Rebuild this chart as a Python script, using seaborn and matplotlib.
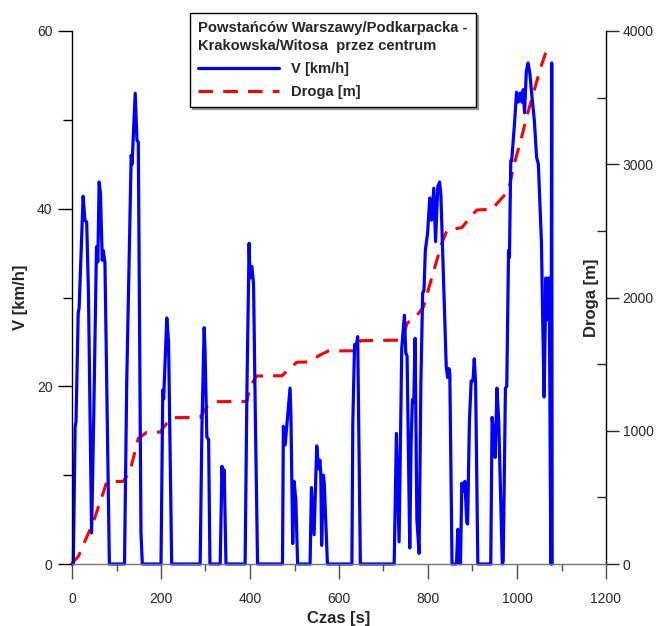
import numpy as np
import pandas as pd
import matplotlib
matplotlib.use("Agg")
import matplotlib.pyplot as plt
from matplotlib.ticker import MultipleLocator
import seaborn as sns

# predkosc [km/h] w funkcji czasu [s]
czas_v = [0, 3, 7, 9, 14, 16, 25, 29, 33, 37, 44, 49, 55, 58, 61, 64, 68, 70, 74, 84,
          118, 123, 128, 133, 135, 142, 146, 149, 155, 158,
          200, 204, 206, 213, 217, 224,
          288, 292, 297, 299, 303, 307, 310,
          333, 337, 339, 342, 346,
          389, 393, 398, 400, 404, 408, 412, 417,
          473, 475, 479, 490, 492, 496, 499, 503, 507,
          535, 538, 544, 550, 554, 557, 559, 561, 565, 567, 574,
          629, 631, 635, 638, 642, 648,
          724, 729, 735, 741, 747, 750, 753, 759, 762, 765, 768, 771, 775, 780,
          784, 788, 791, 794, 799, 804, 808, 813, 817, 822, 826, 829, 841, 844,
          847, 849, 854,
          864, 867, 869, 871, 873, 876, 879, 883, 887, 889, 893, 897, 901, 904,
          907, 912,
          941, 944, 947, 951, 955, 959, 967, 969, 974, 977, 981, 983, 986, 988,
          994, 999, 1003, 1007, 1011, 1014, 1017, 1021, 1025, 1029, 1034, 1039,
          1044, 1048, 1055, 1058, 1061, 1065, 1067, 1071, 1073, 1076, 1078, 1079]
predkosc = [0, 0, 15.5, 16, 28.3, 28.8, 41.4, 38.7, 38.5, 30.5, 3.5, 17, 35.7, 34, 43, 41.7, 34.2, 35.3, 34, 0,
            0, 20.5, 33.3, 46, 45, 53, 47.7, 47.5, 3.5, 0,
            0, 19.6, 18.6, 27.7, 25, 0,
            0, 15.5, 26.6, 24, 14.3, 14, 0,
            0, 11, 8.9, 10.6, 0,
            0, 19.2, 36.1, 32.2, 33.5, 31.5, 16.6, 0,
            0, 15.5, 13.4, 19.8, 16.6, 2.3, 9.3, 7.2, 0,
            0, 8.6, 3.3, 13.3, 10.7, 11.7, 10.3, 2.1, 10, 9, 0,
            0, 15.8, 24.7, 24.3, 25.6, 0,
            0, 14.7, 2.5, 24.3, 28, 23.8, 23.4, 1.8, 13.6, 18.5, 18.2, 25.4, 5, 1.2,
            20.3, 30.5, 30.8, 35.3, 37.2, 41.2, 38.7, 42.3, 36.3, 42.5, 43, 41.5, 22.2, 21,
            22, 21.5, 0,
            0, 3.9, 0.2, 3, 0, 9.1, 8.2, 9.3, 4.7, 4.5, 15.9, 20.6, 20.6, 23.1,
            20.3, 0,
            0, 16.5, 15, 12, 19.8, 16, 0, 0.3, 19.8, 20, 35.3, 34.5, 45.4, 45.4,
            49.3, 53.1, 52, 53, 52, 53.4, 50.8, 55.5, 56.4, 55.2, 52.4, 49.9,
            45.8, 45, 36.1, 26.8, 18.8, 32.2, 27.5, 32.2, 27, 0, 56.4, 0]

# droga [m] w funkcji czasu [s]
czas_d = [0, 3, 14, 48, 70, 78, 115, 130, 149, 168, 198, 213, 224, 288, 303, 318,
          393, 400, 415, 472, 487, 505, 531, 558, 576, 633, 648, 741, 753, 779,
          790, 805, 809, 831, 843, 876, 899, 910, 944, 958, 981, 992, 1010, 1022,
          1038, 1054, 1070]
droga = [0, 17, 55, 317, 533, 618, 620, 693, 943, 988, 990, 1056, 1098, 1100, 1181, 1218,
         1220, 1331, 1411, 1413, 1461, 1514, 1516, 1569, 1599, 1600, 1676, 1680, 1806, 1881,
         1931, 2107, 2156, 2407, 2507, 2524, 2619, 2657, 2662, 2717, 2800, 2980, 3198, 3359,
         3547, 3734, 3890]

tytul = "Powstańców Warszawy/Podkarpacka -\nKrakowska/Witosa  przez centrum"

sns.set_style("ticks")
plt.rcParams['font.family'] = ['Liberation Sans', 'DejaVu Sans']

df_v = pd.DataFrame({"czas": czas_v, "v": predkosc})
df_d = pd.DataFrame({"czas": czas_d, "droga": droga})

fig = plt.figure(figsize=(6.72, 6.26), dpi=100)
ax = fig.add_axes([72 / 672, 62 / 626, 534 / 672, 533 / 626])
ax2 = ax.twinx()

sns.lineplot(data=df_v, x="czas", y="v", ax=ax, color="#0000ff", lw=2.3,
             estimator=None, sort=False, legend=False)
sns.lineplot(data=df_d, x="czas", y="droga", ax=ax2, color="#ff0000", lw=2.2,
             estimator=None, sort=False, legend=False, linestyle="--")
l1 = ax.lines[0]
l2 = ax2.lines[0]
l2.set_dashes([4.8, 3.3])
l1.set_clip_on(False)
l2.set_clip_on(False)

# predkosc nad droga
ax.set_zorder(ax2.get_zorder() + 1)
ax.patch.set_visible(False)

ax.set_xlim(0, 1200)
ax.set_ylim(0, 60)
ax2.set_ylim(0, 4000)
ax.set_xticks(range(0, 1201, 200))
ax.xaxis.set_minor_locator(MultipleLocator(100))
ax.set_yticks([0, 20, 40, 60])
ax.yaxis.set_minor_locator(MultipleLocator(10))
ax2.set_yticks(range(0, 4001, 1000))
ax2.yaxis.set_minor_locator(MultipleLocator(500))

for s in ["top", "right"]:
    ax.spines[s].set_visible(False)
for s in ["top", "left", "bottom"]:
    ax2.spines[s].set_visible(False)
ax.spines["left"].set_color("black")
ax.spines["bottom"].set_color("0.45")
ax2.spines["right"].set_color("black")
for s in [ax.spines["left"], ax.spines["bottom"], ax2.spines["right"]]:
    s.set_linewidth(1)

ax.tick_params(axis="x", which="major", length=11, width=1, color="0.3", pad=9, labelsize=10)
ax.tick_params(axis="x", which="minor", length=5, width=1, color="0.3")
ax.tick_params(axis="y", which="major", length=10, width=1, color="black", pad=4, labelsize=10)
ax.tick_params(axis="y", which="minor", length=6.5, width=1, color="black")
ax2.tick_params(axis="y", which="major", length=9, width=1, direction="out", pad=3, labelsize=10)
ax2.tick_params(axis="y", which="minor", length=6.5, width=1, direction="in")

ax.set_xlabel("Czas [s]", fontsize=12, fontweight="bold")
ax.set_ylabel("V [km/h]", fontsize=12, fontweight="bold")
ax2.set_ylabel("Droga [m]", fontsize=12, fontweight="bold")
ax.xaxis.set_label_coords(0.5, -0.088)
ax.yaxis.set_label_coords(-0.083, 0.5)
ax2.yaxis.set_label_coords(0.959, 0.5)

leg = fig.legend(handles=[l1, l2], labels=["V [km/h]", "Droga [m]"], title=tytul,
                 loc="upper left", bbox_to_anchor=(190 / 672, 1 - 13 / 626),
                 bbox_transform=fig.transFigure, frameon=True, fancybox=False,
                 edgecolor="black", framealpha=1,
                 shadow={"ox": 1.5, "oy": -1.5, "color": "0.6", "alpha": 1},
                 prop={"weight": "bold", "size": 10.6},
                 title_fontproperties={"weight": "bold", "size": 10.6}, alignment="left",
                 handlelength=5.5, handletextpad=0.8, labelspacing=0.6, borderpad=0.55,
                 borderaxespad=0)
leg.get_title().set_linespacing(1.4)

fig.savefig("out.png", dpi=100)
